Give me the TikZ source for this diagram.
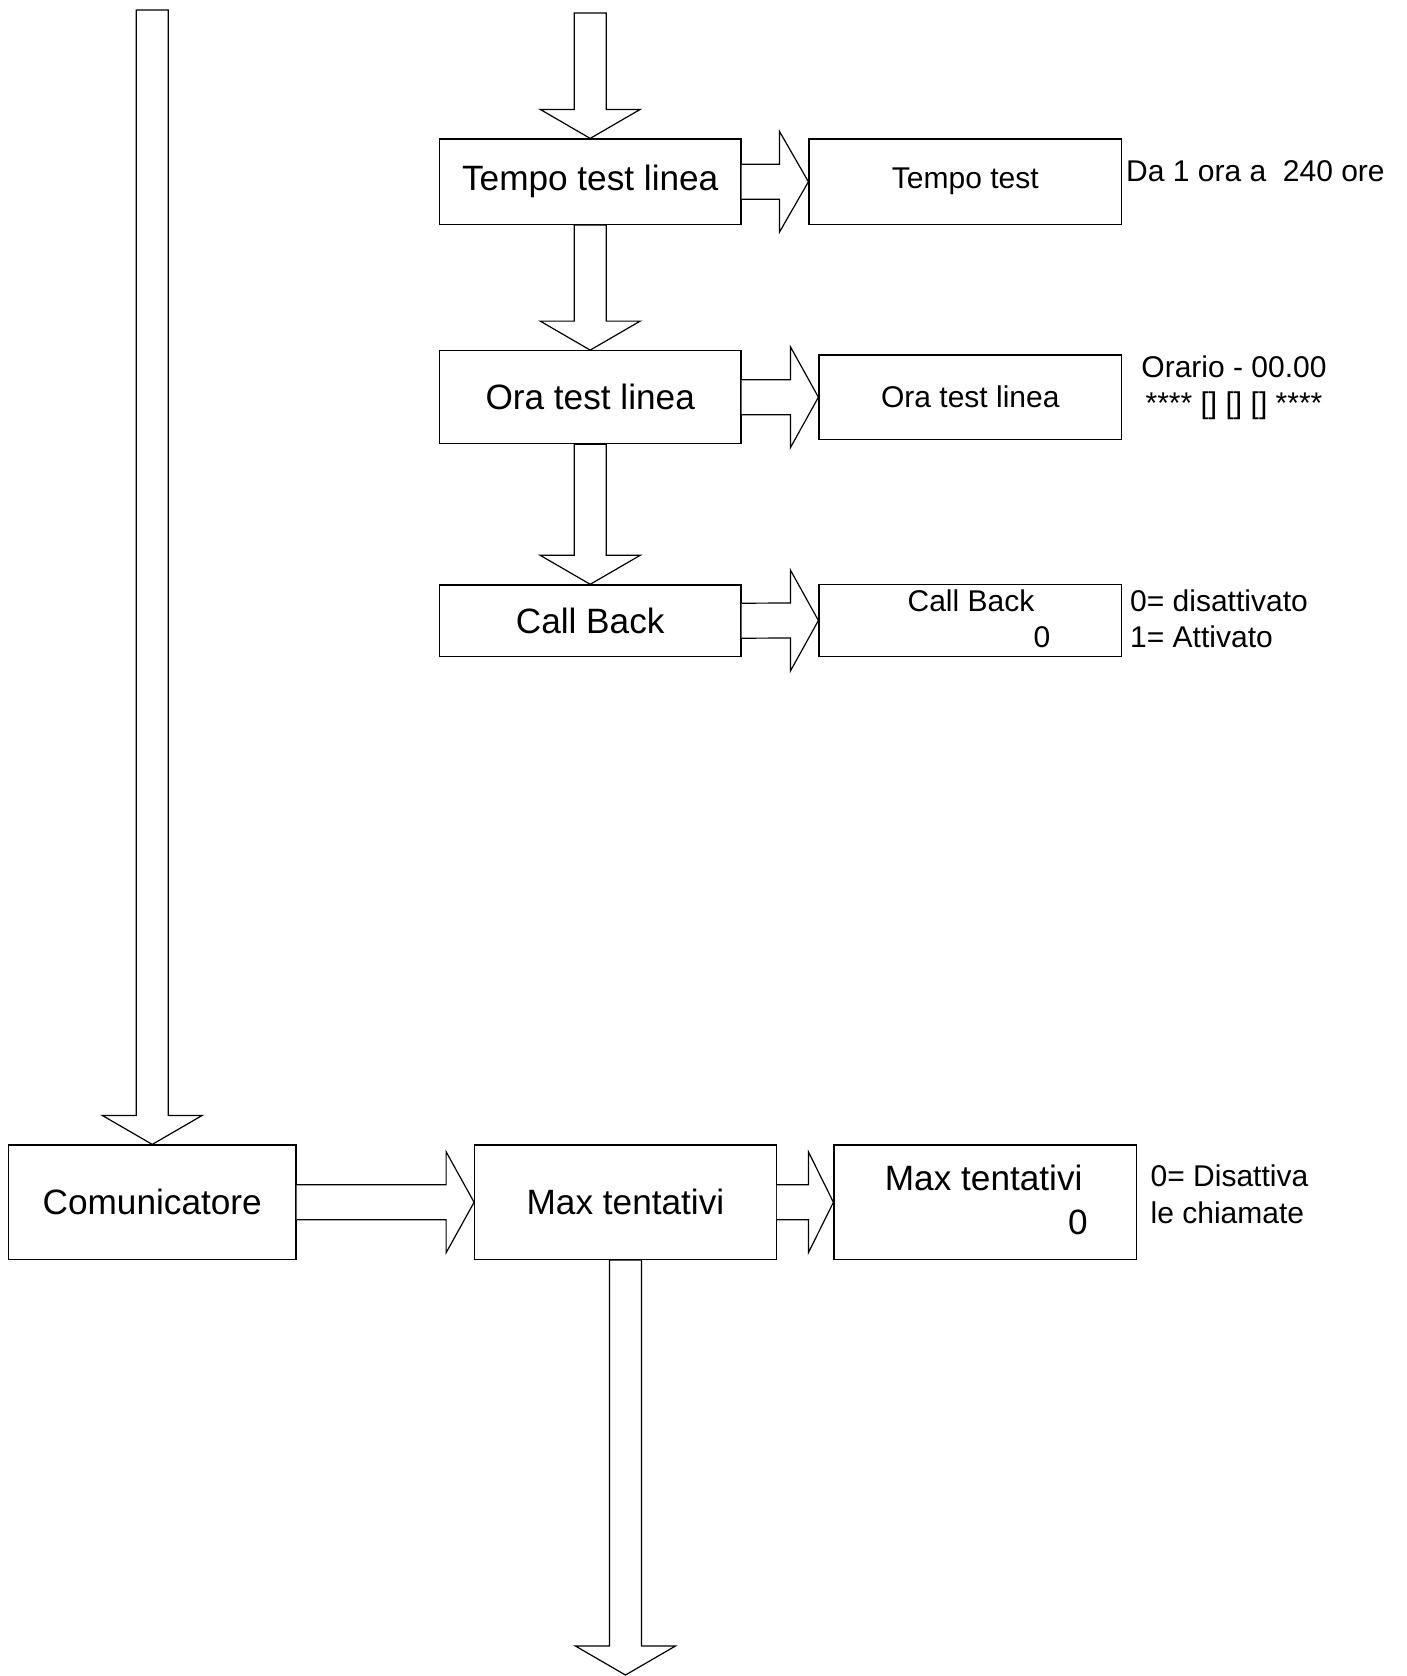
\documentclass[tikz,border=0pt]{standalone}
\usepackage{fontspec}
\setmainfont{Liberation Sans}
\usetikzlibrary{calc}
\newcommand{\bigfnt}{\fontsize{35.2}{44}\selectfont}
\newcommand{\smallfnt}{\fontsize{30}{36}\selectfont}
\tikzset{
  box/.style={draw, line width=1.2pt, rectangle, inner sep=0pt, font=\bigfnt},
  smallbox/.style={box, font=\smallfnt},
  blk/.style={draw, line width=1.2pt, fill=white},
  side/.style={inner sep=0pt, font=\smallfnt},
  bigtxt/.style={inner sep=0pt, font=\bigfnt},
}
% block arrow pointing down: #1 tail point, #2 tip point
\newcommand{\blkdown}[2]{%
  \draw[blk] ($(#1)+(-16,0)$) -- ($(#2)+(-16,-29)$) -- ($(#2)+(-50,-29)$) -- (#2)
    -- ($(#2)+(50,-29)$) -- ($(#2)+(16,-29)$) -- ($(#1)+(16,0)$) -- cycle;}
% block arrow pointing right: #1 tail point, #2 tip point, #3 head length
\newcommand{\blkright}[3]{%
  \draw[blk] ($(#1)+(0,-17.5)$) -- ($(#2)+(-#3,-17.5)$) -- ($(#2)+(-#3,-50.5)$) -- (#2)
    -- ($(#2)+(-#3,50.5)$) -- ($(#2)+(-#3,17.5)$) -- ($(#1)+(0,17.5)$);}
\begin{document}
\begin{tikzpicture}[x=1pt,y=-1pt]
\useasboundingbox (0,0) rectangle (1407,1676);

% boxes
\node[box, minimum width=301.6, minimum height=85.5] (t1) at (590.2,181.75) {\raisebox{-2pt}{Tempo test linea}};
\node[smallbox, minimum width=312.6, minimum height=85.5] (t2) at (965.3,181.75) {\raisebox{-3pt}{Tempo test}};
\node[box, minimum width=301.6, minimum height=93] (o1) at (590.2,397.2) {Ora test linea};
\node[smallbox, minimum width=302.6, minimum height=84.4] (o2) at (970.3,397.2) {Ora test linea};
\node[box, minimum width=301.6, minimum height=71.6] (c1) at (590.2,620.7) {Call Back};
\node[smallbox, minimum width=302.6, minimum height=72] (c2) at (970.3,620.5) {};
\node[side] (c2t) at (971,601) {Call Back};
\node[side] (c2v) at (1042,637) {0};
\node[box, minimum width=287.5, minimum height=114.5] (com) at (152.25,1202.25) {Comunicatore};
\node[box, minimum width=301.5, minimum height=114.5] (m1) at (625.45,1202.25) {Max tentativi};
\node[box, minimum width=302.6, minimum height=114.5] (m2) at (985.3,1202.25) {};
\node[bigtxt] (m2t) at (983.7,1178) {Max tentativi};
\node[bigtxt] (m2v) at (1078,1222) {0};

% side notes
\node[side, anchor=west] (da) at (1126,171) {Da 1 ora a~ 240 ore};
\node[side, align=center] (orario) at (1234,388) {Orario - 00.00\\\relax **** [] [] [] ****};
\node[side, anchor=west, align=left] (cbnote) at (1130,619) {0= disattivato\\1= Attivato};
\node[side, anchor=west, align=left, font=\fontsize{30}{36.5}\selectfont] (mtnote) at (1150.5,1194.25) {0= Disattiva\\le chiamate};

% free ends
\path (0,13) coordinate (ytop) (0,10) coordinate (yleft) (0,1675) coordinate (ybot);
\coordinate (topin) at (t1.north |- ytop);
\coordinate (leftin) at (com.north |- yleft);
\coordinate (botout) at (m1.south |- ybot);

% block arrows
\blkdown{topin}{t1.north}
\blkdown{t1.south}{o1.north}
\blkdown{o1.south}{c1.north}
\blkdown{leftin}{com.north}
\blkdown{m1.south}{botout}
\blkright{t1.east}{t2.west}{29}
\blkright{o1.east}{o2.west}{28}
\blkright{c1.east}{c2.west}{28}
\blkright{com.east}{m1.west}{28}
\blkright{m1.east}{m2.west}{25}
\end{tikzpicture}
\end{document}
